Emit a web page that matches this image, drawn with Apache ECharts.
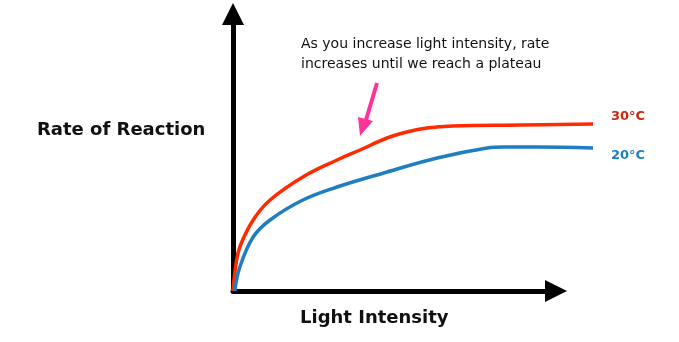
<!DOCTYPE html>
<html>
<head>
<meta charset="utf-8">
<script src="https://cdn.jsdelivr.net/npm/echarts@6/dist/echarts.min.js"></script>
<style>
  html, body { margin: 0; padding: 0; background: #ffffff; }
  #chart { width: 679px; height: 342px; }
</style>
</head>
<body>
<div id="chart"></div>
<script>
// Light intensity (relative units) and reaction rate (relative units)
const rate30x = [0, 0.8, 1.9, 5.6, 10.3, 19.4, 28.9, 35.3, 42.8, 48.3, 53.9, 61.1, 79.7, 100];
const rate30y = [0, 13, 22, 35.5, 45.5, 57, 65.5, 70.5, 76.5, 79.5, 81.5, 82.5, 83, 83.5];
const rate20x = [0.5, 1.9, 5.6, 10.3, 19.4, 28.9, 42.8, 56.7, 70.6, 75, 84.4, 100];
const rate20y = [0, 12, 27, 35.5, 45.5, 52, 59.5, 66.5, 71.5, 72, 72, 71.5];
const seriesNames = ['30°C', '20°C'];
const xTitle = 'Light Intensity';
const yTitle = 'Rate of Reaction';
const noteLines = ['As you increase light intensity, rate', 'increases until we reach a plateau'];

const pairs = (xs, ys) => xs.map((x, i) => [x, ys[i]]);

const chart = echarts.init(document.getElementById('chart'));

const hiddenAxis = {
  axisLine: { show: false }, axisTick: { show: false },
  axisLabel: { show: false }, splitLine: { show: false }
};
const arrowAxis = {
  min: 0, max: 1,
  axisLine: {
    show: true,
    symbol: ['none', 'triangle'],
    symbolSize: [22, 22],
    lineStyle: { color: '#000000', width: 5 }
  },
  axisTick: { show: false }, axisLabel: { show: false }, splitLine: { show: false }
};

chart.setOption({
  animation: false,
  grid: [
    { left: 233, right: 86, top: 91, bottom: 51 },
    { left: 233, right: 123, top: 14, bottom: 51 }
  ],
  xAxis: [
    Object.assign({ type: 'value', gridIndex: 0, min: 0, max: 100 }, hiddenAxis),
    Object.assign({ type: 'value', gridIndex: 1 }, arrowAxis)
  ],
  yAxis: [
    Object.assign({ type: 'value', gridIndex: 0, min: 0, max: 100 }, hiddenAxis),
    Object.assign({ type: 'value', gridIndex: 1 }, arrowAxis)
  ],
  series: [
    {
      name: seriesNames[0], type: 'line', xAxisIndex: 0, yAxisIndex: 0,
      data: pairs(rate30x, rate30y), smooth: 0.4, showSymbol: false, clip: false,
      lineStyle: { color: '#FF2A00', width: 3.5 },
      endLabel: {
        show: true, formatter: '{a}', offset: [10, -7],
        color: '#C9260E', fontFamily: 'DejaVu Sans', fontWeight: 'bold', fontSize: 13
      }
    },
    {
      name: seriesNames[1], type: 'line', xAxisIndex: 0, yAxisIndex: 0,
      data: pairs(rate20x, rate20y), smooth: 0.4, showSymbol: false, clip: false,
      lineStyle: { color: '#1F7EC1', width: 3.5 },
      endLabel: {
        show: true, formatter: '{a}', offset: [10, 8],
        color: '#1F7EC1', fontFamily: 'DejaVu Sans', fontWeight: 'bold', fontSize: 13
      }
    }
  ],
  graphic: [
    {
      type: 'text', left: 37, top: 121,
      style: { text: yTitle, fill: '#111111', font: 'bold 18px "DejaVu Sans"' }
    },
    {
      type: 'text', left: 300, top: 309,
      style: { text: xTitle, fill: '#111111', font: 'bold 18px "DejaVu Sans"' }
    },
    {
      type: 'text', left: 301, top: 34,
      style: { text: noteLines.join('\n'), fill: '#111111', font: '14px "DejaVu Sans"', lineHeight: 20 }
    },
    {
      // pointer from the note down to the red curve
      type: 'group',
      children: [
        { type: 'line', shape: { x1: 377, y1: 83, x2: 366, y2: 120 },
          style: { stroke: '#FF3399', lineWidth: 4 } },
        { type: 'polygon', shape: { points: [[358, 117], [373, 121], [360, 136]] },
          style: { fill: '#FF3399' } }
      ]
    }
  ]
});
</script>
</body>
</html>
